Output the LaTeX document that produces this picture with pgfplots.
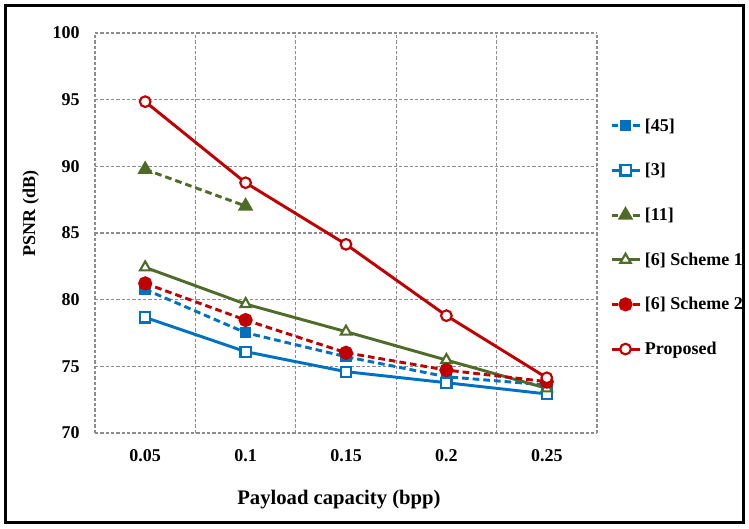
\documentclass[border=0pt]{standalone}
\usepackage{pgfplots}
\pgfplotsset{compat=1.18}
\usepackage{fontspec}
\setmainfont{Liberation Serif}
\definecolor{cblue}{HTML}{0070C0}
\definecolor{cgreen}{HTML}{4F6B28}
\definecolor{cred}{HTML}{C00000}
\definecolor{cgrid}{HTML}{8C8C8C}
\begin{document}
\begin{tikzpicture}[x=0.75pt,y=0.75pt]
\useasboundingbox (0,0) rectangle (749,528);
\draw[line width=2.2pt,black] (5.5,5.5) rectangle (743.5,522.5);
\begin{axis}[
  at={(71.25pt,71.25pt)}, anchor=south west,
  scale only axis, width=376.5pt, height=300pt,
  xmin=0.5, xmax=5.5, ymin=70, ymax=100,
  xtick={1,2,3,4,5},
  xticklabels={0.05,0.1,0.15,0.2,0.25},
  minor xtick={0.5,1.5,2.5,3.5,4.5,5.5},
  ytick={70,75,80,85,90,95,100},
  xminorgrids=true, ymajorgrids=true,
  major tick length=0pt, minor tick length=0pt,
  grid style={cgrid, line width=0.8pt, dash pattern=on 2.5pt off 1.5pt},
  minor grid style={cgrid, line width=0.8pt, dash pattern=on 2.5pt off 1.5pt},
  axis line style={draw=none},
  /pgf/number format/assume math mode=true,
  tick label style={font=\fontsize{13.5}{16}\selectfont\bfseries},
  yticklabel style={xshift=-8pt},
  xticklabel style={yshift=-9pt},
  xlabel={Payload capacity (bpp)},
  ylabel={PSNR (dB)},
  xlabel style={font=\fontsize{15.5}{18}\selectfont\bfseries, at={(axis description cs:0.486,-0.1675)}, anchor=center},
  ylabel style={font=\fontsize{13.5}{16}\selectfont\bfseries, at={(axis description cs:-0.128,0.549)}, anchor=center, rotate=0},
  legend cell align=left,
  legend style={draw=none, fill=none, inner sep=0pt, outer sep=0pt,
    at={(1.026,0.7915)}, anchor=north west,
    font=\fontsize{13.5}{16}\selectfont\bfseries,
    nodes={inner sep=0pt, text height=11pt, text depth=3pt},
    row sep=19.5pt,
    /tikz/every odd column/.append style={column sep=3pt}},
  legend image code/.code={\draw[mark repeat=2,mark phase=2] plot coordinates {(0pt,0pt)(10.5pt,0pt)(21pt,0pt)};},
  every axis plot/.append style={line width=2.2pt},
]
\addplot[cblue, dash pattern=on 5pt off 3pt, mark=square*, mark size=3.2pt, mark options={solid}]
  coordinates {(1,80.77) (2,77.52) (3,75.72) (4,74.22) (5,73.6)};
\addlegendentry{[45]}
\addplot[cblue, mark=square*, mark size=3.8pt, mark options={solid, fill=white, line width=1.6pt}]
  coordinates {(1,78.67) (2,76.1) (3,74.6) (4,73.77) (5,72.93)};
\addlegendentry{[3]}
\addplot[cgreen, dash pattern=on 5pt off 3pt, mark=triangle*, mark size=4.5pt, mark options={solid}]
  coordinates {(1,89.77) (2,87.02)};
\addlegendentry{[11]}
\addplot[cgreen, mark=triangle*, mark size=4.5pt, mark options={solid, fill=white, line width=1.6pt}]
  coordinates {(1,82.42) (2,79.67) (3,77.6) (4,75.47) (5,73.35)};
\addlegendentry{[6] Scheme 1}
\addplot[cred, dash pattern=on 5pt off 3pt, mark=*, mark size=4.2pt, mark options={solid}]
  coordinates {(1,81.22) (2,78.47) (3,76.02) (4,74.72) (5,73.85)};
\addlegendentry{[6] Scheme 2}
\addplot[cred, mark=*, mark size=4pt, mark options={solid, fill=white, line width=1.6pt}]
  coordinates {(1,94.85) (2,88.77) (3,84.15) (4,78.8) (5,74.14)};
\addlegendentry{Proposed}
\end{axis}
\end{tikzpicture}
\end{document}
